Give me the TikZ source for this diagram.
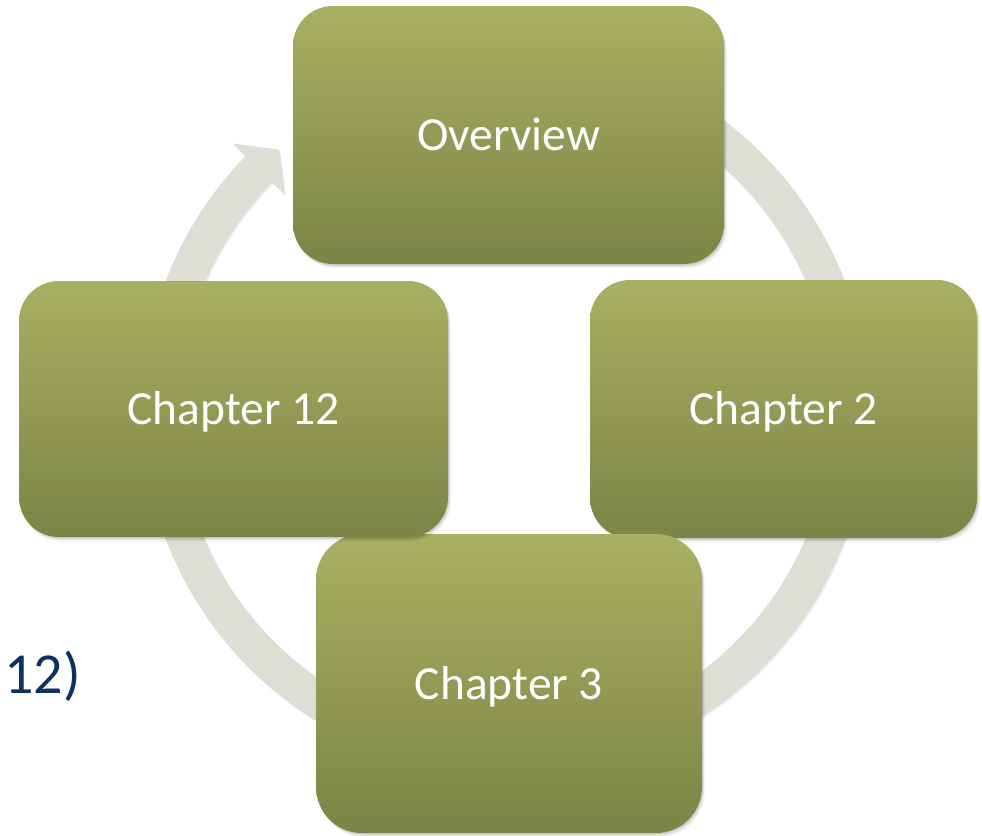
\documentclass[tikz,border=0pt]{standalone}
\usepackage{fontspec}
\setmainfont{Carlito}
\usetikzlibrary{calc}
\definecolor{ringc}{RGB}{222,222,212}
\definecolor{boxtop}{RGB}{169,176,98}
\definecolor{boxbot}{RGB}{124,132,70}
\definecolor{navytext}{RGB}{14,50,96}
\begin{document}
\begin{tikzpicture}[x=1pt,y=1pt,
  softshadow/.style={
    preaction={fill=black,opacity=0.10,transform canvas={xshift=1pt,yshift=-1.5pt}},
    preaction={fill=black,opacity=0.07,transform canvas={xshift=2pt,yshift=-3pt}},
    preaction={fill=black,opacity=0.04,transform canvas={xshift=3pt,yshift=-4.5pt}}},
  ringshadow/.style={
    preaction={fill=black,opacity=0.08,transform canvas={xshift=1pt,yshift=-1.5pt}},
    preaction={fill=black,opacity=0.05,transform canvas={xshift=2pt,yshift=-3pt}}},
  chbox/.style={softshadow, rectangle, rounded corners=40pt,
    top color=boxtop, bottom color=boxbot, text=white,
    font=\fontsize{47.5}{52}\selectfont, inner sep=0pt, draw=none,
    text height=31pt, text depth=0pt},
  sidetext/.style={text=navytext, font=\fontsize{58}{62}\selectfont, inner sep=0pt}]
\useasboundingbox (0,0) rectangle (982,-835);

% circular arrow
\coordinate (c) at (505,-410);
\fill[ringc, ringshadow]
  ($(c)+(70:363)$) arc[start angle=70, end angle=-224.4, radius=363]
  -- ($(c)+(135.6:381)$) -- ($(c)+(131:345)$) -- ($(c)+(135.6:309)$)
  -- ($(c)+(135.6:327)$) arc[start angle=135.6, end angle=430, radius=327]
  -- cycle;

% side text
\node[sidetext, anchor=base east] (side) at (81,-693) {12)};

% boxes
\node[chbox, minimum width=431pt, minimum height=258pt] (ov) at (508.5,-135) {Overview};
\node[chbox, minimum width=387pt, minimum height=258pt] (ch2) at (783.5,-409) {Chapter 2};
\node[chbox, rounded corners=46pt, minimum width=386pt, minimum height=299pt] (ch3) at (509,-683.5) {Chapter 3};
\node[chbox, minimum width=429pt, minimum height=256pt] (ch12) at (233.5,-409) {Chapter 12};
\end{tikzpicture}
\end{document}
